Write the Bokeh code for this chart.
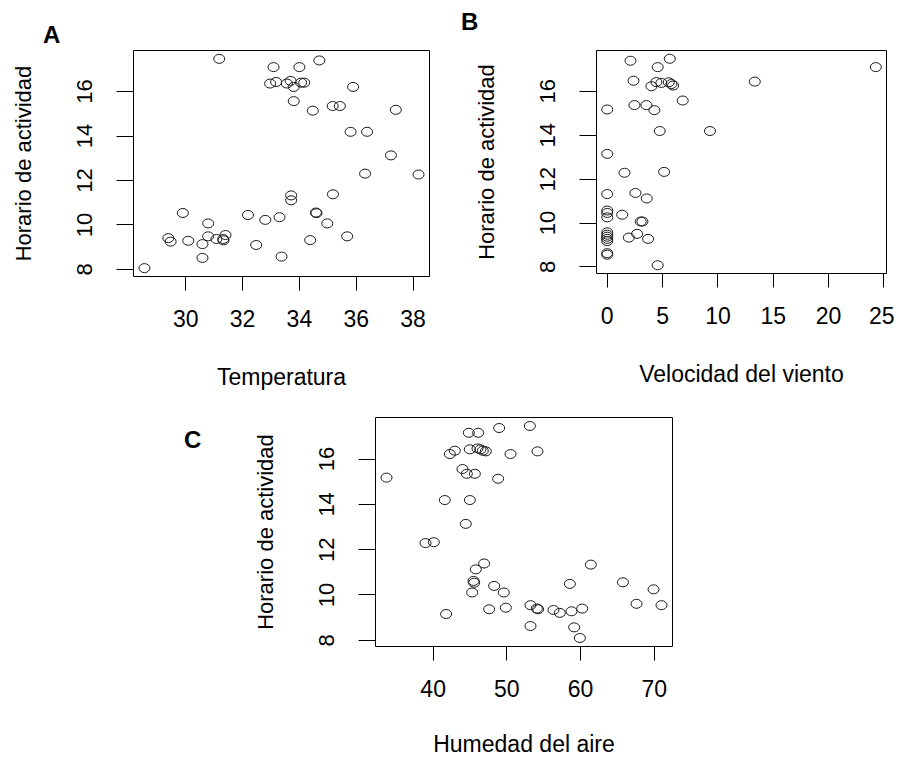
from bokeh.plotting import figure
from bokeh.models import Range1d, FixedTicker, Div
from bokeh.layouts import row, column
from bokeh.embed import file_html
from bokeh.resources import INLINE

# ---- Panel A: Temperatura vs Horario de actividad ----
temp_x = [31.18, 33.09, 34.00, 34.70, 32.97, 33.18, 33.56, 33.69, 33.80, 34.06,
          34.17, 33.80, 35.89, 34.47, 35.17, 35.42, 37.39, 35.80, 36.38, 37.22,
          36.31, 38.19, 33.71, 33.71, 35.18, 29.90, 32.19, 32.80, 33.30, 34.58,
          34.60, 34.98, 30.79, 29.39, 29.47, 30.09, 30.59, 30.79, 31.08, 31.32,
          31.40, 31.33, 32.48, 34.38, 35.68, 30.59, 33.37, 28.55]
temp_y = [17.47, 17.10, 17.10, 17.40, 16.36, 16.43, 16.36, 16.48, 16.21, 16.40,
          16.40, 15.57, 16.21, 15.14, 15.35, 15.35, 15.18, 14.19, 14.19, 13.13,
          12.31, 12.27, 11.33, 11.11, 11.38, 10.54, 10.45, 10.23, 10.35, 10.56,
          10.53, 10.07, 10.07, 9.41, 9.25, 9.29, 9.14, 9.49, 9.37, 9.37,
          9.55, 9.31, 9.10, 9.32, 9.49, 8.52, 8.58, 8.06]

# ---- Panel B: Velocidad del viento vs Horario de actividad ----
wind_x = [2.10, 5.65, 4.56, 24.26, 2.37, 3.99, 4.44, 4.89, 5.56, 5.80,
          5.95, 13.33, 0.00, 2.46, 3.54, 4.26, 6.82, 4.74, 9.28, 0.00,
          1.56, 5.14, 0.00, 2.55, 3.57, 0.00, 0.00, 0.00, 1.35, 3.03,
          3.18, 0.00, 0.00, 0.00, 0.00, 0.00, 2.70, 1.95, 3.69, 0.00,
          0.00, 4.56]
wind_y = [17.39, 17.48, 17.10, 17.10, 16.48, 16.23, 16.42, 16.38, 16.41, 16.33,
          16.26, 16.44, 15.17, 15.37, 15.37, 15.14, 15.58, 14.19, 14.19, 13.15,
          12.29, 12.33, 11.32, 11.37, 11.12, 10.57, 10.46, 10.26, 10.38, 10.07,
          10.07, 9.58, 9.47, 9.38, 9.28, 9.18, 9.51, 9.34, 9.28, 8.63,
          8.56, 8.08]

# ---- Panel C: Humedad del aire vs Horario de actividad ----
hum_x = [33.67, 48.96, 53.12, 44.84, 46.11, 42.26, 42.94, 44.98, 46.02, 46.43,
         46.74, 47.15, 50.50, 54.16, 43.98, 44.57, 45.66, 48.82, 41.58, 44.98,
         44.43, 38.96, 40.09, 46.92, 45.79, 45.48, 45.57, 61.40, 58.55, 65.75,
         69.91, 48.28, 49.59, 45.29, 41.76, 47.60, 49.86, 53.21, 54.07, 54.25,
         56.33, 57.19, 58.78, 60.23, 67.60, 70.99, 53.21, 59.14, 59.91]
hum_y = [15.18, 17.37, 17.46, 17.16, 17.16, 16.22, 16.37, 16.43, 16.47, 16.43,
         16.37, 16.34, 16.22, 16.34, 15.56, 15.35, 15.35, 15.13, 14.19, 14.19,
         13.14, 12.29, 12.33, 11.39, 11.13, 10.62, 10.54, 11.34, 10.49, 10.56,
         10.25, 10.40, 10.11, 10.11, 9.16, 9.37, 9.44, 9.55, 9.40, 9.37,
         9.34, 9.21, 9.28, 9.40, 9.61, 9.55, 8.63, 8.57, 8.10]

ticks_temp = [30, 32, 34, 36, 38]
ticks_wind = [0, 5, 10, 15, 20, 25]
ticks_hum = [40, 50, 60, 70]
ticks_hora = [8, 10, 12, 14, 16]

y_title = "Horario de actividad"
FONT = "Liberation Sans"
LETTER_CSS = ("position:absolute; font-family:'Liberation Sans'; font-size:24px; "
              "font-weight:bold; line-height:27px; color:black;")


def padded(vals):
    lo, hi = min(vals), max(vals)
    pad = 0.04 * (hi - lo)
    return Range1d(lo - pad, hi + pad)


def panel(xs, ys, xticks, xlabel, fw, fh, ml, mr, mt, mb, xlab_standoff=34):
    p = figure(output_backend="svg", toolbar_location=None,
               frame_width=fw, frame_height=fh,
               min_border_left=ml, min_border_right=mr,
               min_border_top=mt, min_border_bottom=mb,
               x_range=padded(xs), y_range=padded(ys))
    p.background_fill_color = "white"
    p.border_fill_color = "white"
    p.outline_line_color = "black"
    p.outline_line_width = 1
    p.xgrid.visible = False
    p.ygrid.visible = False

    p.ellipse(x=xs, y=ys, width=11, height=9,
              width_units="screen", height_units="screen",
              fill_color=None, line_color="#1a1a1a", line_width=1)

    xa = p.xaxis[0]
    xa.ticker = FixedTicker(ticks=xticks)
    xa.axis_line_color = None
    xa.major_tick_in = 0
    xa.major_tick_out = 14
    xa.major_tick_line_color = "black"
    xa.minor_tick_line_color = None
    xa.major_label_text_font = FONT
    xa.major_label_text_font_size = "23px"
    xa.major_label_text_color = "black"
    xa.major_label_standoff = 19
    xa.axis_label = xlabel
    xa.axis_label_text_font = FONT
    xa.axis_label_text_font_size = "23px"
    xa.axis_label_text_font_style = "normal"
    xa.axis_label_text_color = "black"
    xa.axis_label_standoff = xlab_standoff

    ya = p.yaxis[0]
    ya.ticker = FixedTicker(ticks=ticks_hora)
    ya.axis_line_color = None
    ya.major_tick_in = 0
    ya.major_tick_out = 17
    ya.major_tick_line_color = "black"
    ya.minor_tick_line_color = None
    ya.major_label_orientation = "vertical"
    ya.major_label_text_font = FONT
    ya.major_label_text_font_size = "22px"
    ya.major_label_text_color = "black"
    ya.major_label_standoff = 24
    ya.axis_label = y_title
    ya.axis_label_text_font = FONT
    ya.axis_label_text_font_size = "22px"
    ya.axis_label_text_font_style = "normal"
    ya.axis_label_text_color = "black"
    ya.axis_label_standoff = 39
    return p


pA = panel(temp_x, temp_y, ticks_temp, "Temperatura",
           296, 226, 133, 26, 5, 119)
pB = panel(wind_x, wind_y, ticks_wind, "Velocidad del viento",
           290, 223, 141, 8, 5, 122)
pC = panel(hum_x, hum_y, ticks_hum, "Humedad del aire",
           297, 229, 165, 20, 22, 110, xlab_standoff=31)

letters_top = Div(
    text=(f'<div style="{LETTER_CSS} left:43px; top:21px;">A</div>'
          f'<div style="{LETTER_CSS} left:461px; top:8px;">B</div>'),
    width=890, height=45, margin=0)

letter_c = Div(
    text=f'<div style="{LETTER_CSS} left:184px; top:31px;">C</div>',
    width=210, height=40, margin=0)

layout = column(letters_top, row(pA, pB), row(letter_c, pC))

open("out.html", "w").write(file_html(layout, INLINE))
